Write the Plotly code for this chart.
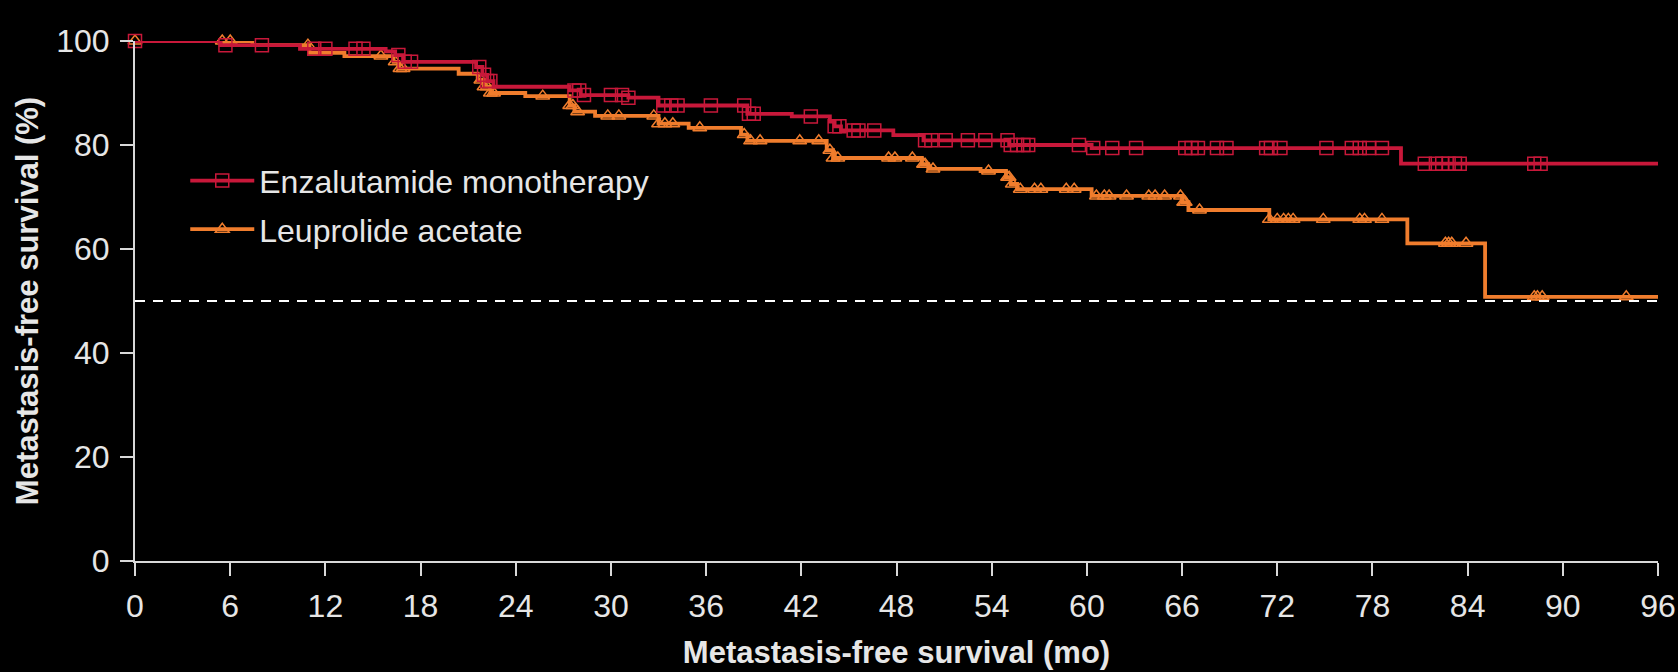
import numpy as np
import plotly.graph_objects as go

# ---------------- data ----------------
# Enzalutamide monotherapy: KM step changes (month, survival %)
enz_t = [0, 5.4, 10.4, 15.8, 16.4, 16.9, 21.5, 21.9, 22.2, 22.6, 27.4, 28.1, 31.1,
         33.0, 38.6, 41.4, 43.8, 44.1, 44.5, 47.8, 49.7, 55.1, 60.3, 79.8, 96]
enz_s = [100, 99.2, 98.5, 98.0, 97.3, 96.0, 95.0, 93.5, 92.3, 91.2, 90.5, 89.6, 89.1,
         87.6, 86.0, 85.5, 84.5, 83.6, 82.8, 81.9, 80.9, 80.0, 79.4, 76.4, 76.4]
enz_cens = [0, 5.7, 8.0, 11.3, 12.0, 13.9, 14.4, 16.6, 17.0, 17.4, 21.7, 22.0, 22.2, 22.4,
            27.7, 28.0, 28.3, 30.0, 30.7, 31.1, 33.3, 33.8, 34.2, 36.3, 38.4, 38.7, 39.0,
            42.6, 44.1, 44.4, 45.3, 45.6, 46.6, 49.8, 50.2, 51.1, 52.5, 53.6, 55.0,
            55.2, 55.6, 56.0, 56.3, 59.5, 60.4, 61.6, 63.1, 66.2, 66.6, 67.0, 68.2, 68.8,
            71.3, 71.6, 72.2, 75.1, 76.7, 77.2, 77.8, 78.6, 81.3, 82.0, 82.4, 82.8, 83.2,
            83.5, 88.2, 88.6]

# Leuprolide acetate: KM step changes (month, survival %)
leu_t = [0, 7.4, 11.0, 13.2, 16.3, 16.6, 20.4, 21.6, 22.0, 22.4, 24.6, 27.4, 27.7, 29.0,
         33.0, 34.9, 38.2, 38.6, 43.6, 44.0, 49.6, 50.0, 53.3, 54.9, 55.2, 55.6, 60.3,
         66.0, 66.4, 71.5, 80.2, 85.1, 96]
leu_s = [100, 99.2, 97.7, 97.1, 96.0, 94.7, 93.7, 92.5, 91.2, 90.0, 89.4, 87.6, 86.4, 85.6,
         84.1, 83.3, 82.0, 80.8, 79.0, 77.5, 76.3, 75.4, 75.0, 73.8, 72.5, 71.5, 70.2,
         69.0, 67.5, 65.7, 61.1, 50.8, 50.8]
leu_cens = [0, 5.5, 6.0, 10.9, 15.5, 16.4, 16.7, 16.9, 21.8, 22.0, 22.2, 22.4, 22.6, 25.7,
            27.4, 27.6, 27.9, 29.8, 30.5, 32.7, 33.0, 33.4, 33.9, 35.6, 38.4, 38.8, 39.4,
            41.9, 43.1, 43.8, 44.0, 44.3, 47.5, 47.9, 49.0, 49.7, 49.8, 50.3, 53.8, 55.0,
            55.1, 55.3, 55.8, 56.7, 57.1, 58.7, 59.2, 60.6, 61.1, 61.4, 62.5, 63.9, 64.3,
            64.9, 65.9, 66.1, 66.2, 67.1, 71.5, 72.0, 72.4, 72.7, 73.0, 74.9, 77.2, 77.5,
            78.6, 82.6, 82.8, 83.0, 83.9, 88.2, 88.4, 88.7, 94.0]

x_ticks = list(range(0, 97, 6))
y_ticks = [0, 20, 40, 60, 80, 100]
names = ["Enzalutamide monotherapy", "Leuprolide acetate"]

RED = "#C8183A"
ORANGE = "#F07D2D"
TXT = "#E6E6E6"
AX = "#D9D9D9"
FONT = "Liberation Sans, Arial, sans-serif"


def step_value(times, surv, c):
    idx = np.searchsorted(np.array(times), np.array(c), side="right") - 1
    return np.array(surv)[idx]


fig = go.Figure()

# orange first (red drawn on top)
fig.add_trace(go.Scatter(x=leu_t, y=leu_s, mode="lines", line=dict(color=ORANGE, width=3.8, shape="hv"),
                         showlegend=False, cliponaxis=False, hoverinfo="skip"))
fig.add_trace(go.Scatter(x=leu_cens, y=step_value(leu_t, leu_s, leu_cens), mode="markers",
                         marker=dict(symbol="triangle-up-open", size=12, color=ORANGE, line=dict(width=1.5, color=ORANGE)),
                         showlegend=False, cliponaxis=False))
fig.add_trace(go.Scatter(x=enz_t, y=enz_s, mode="lines", line=dict(color=RED, width=3.8, shape="hv"),
                         showlegend=False, cliponaxis=False, hoverinfo="skip"))
fig.add_trace(go.Scatter(x=enz_cens, y=step_value(enz_t, enz_s, enz_cens), mode="markers",
                         marker=dict(symbol="square-open", size=13, color=RED, line=dict(width=1.5, color=RED)),
                         showlegend=False, cliponaxis=False))

# legend entries
fig.add_trace(go.Scatter(x=[None], y=[None], mode="lines+markers", name=names[0], legendgroup="a",
                         line=dict(color=RED, width=3.8),
                         marker=dict(symbol="square-open", size=13, color=RED, line=dict(width=1.5, color=RED))))
fig.add_trace(go.Scatter(x=[None], y=[None], mode="lines+markers", name=names[1], legendgroup="b",
                         line=dict(color=ORANGE, width=3.8),
                         marker=dict(symbol="triangle-up-open", size=12, color=ORANGE, line=dict(width=1.5, color=ORANGE))))

# 50% reference line
fig.add_shape(type="line", xref="x", yref="y", x0=0, x1=96, y0=50, y1=50,
              line=dict(color="white", width=2, dash="10px,8px"))

axis_common = dict(showgrid=False, zeroline=False, showline=True, linecolor=AX, linewidth=2,
                   ticks="outside", ticklen=13, tickwidth=2, tickcolor=AX, automargin=False,
                   tickfont=dict(family=FONT, size=32, color=TXT))

fig.update_layout(
    width=1678, height=672,
    paper_bgcolor="black", plot_bgcolor="black",
    margin=dict(l=135, r=20, t=41, b=111),
    font=dict(family=FONT, color=TXT),
    xaxis=dict(range=[0, 96], tickvals=x_ticks, ticktext=[str(v) for v in x_ticks],
               ticklabelstandoff=3,
               title=dict(text="<b>Metastasis-free survival (mo)</b>", font=dict(family=FONT, size=31, color=TXT),
                          standoff=18),
               **axis_common),
    yaxis=dict(range=[0, 100], tickvals=y_ticks, ticktext=[str(v) for v in y_ticks],
               ticklabelstandoff=4,
               title=dict(text="<b>Metastasis-free survival (%)</b>", font=dict(family=FONT, size=31, color=TXT),
                          standoff=8),
               **axis_common),
    legend=dict(x=0.033, y=0.784, xanchor="left", yanchor="top", bgcolor="rgba(0,0,0,0)",
                font=dict(family=FONT, size=32, color=TXT), itemwidth=64, tracegroupgap=4,
                traceorder="grouped"),
    showlegend=True,
)

fig.write_html("out.html")
